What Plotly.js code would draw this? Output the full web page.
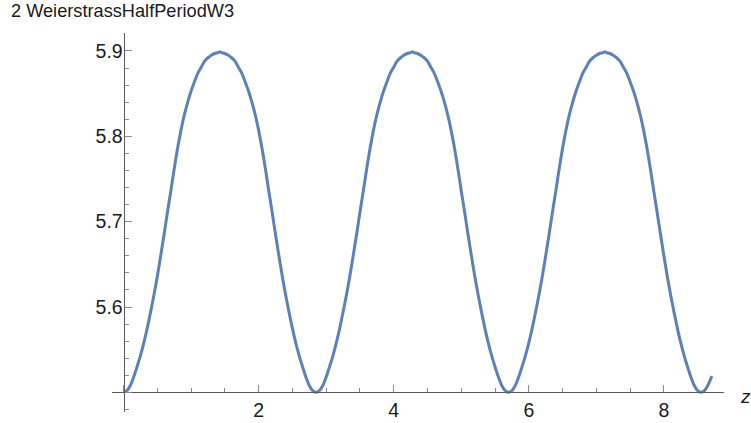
<!DOCTYPE html>
<html>
<head>
<meta charset="utf-8">
<script src="https://cdn.plot.ly/plotly-3.0.1.min.js"></script>
<style>
  html, body { margin: 0; padding: 0; background: #ffffff; }
  #chart { width: 751px; height: 423px; }
</style>
</head>
<body>
<div id="chart"></div>
<script>
// Values (z, 2*W3), one list per hump
const zHump1 = [
  0, 0.05, 0.1, 0.15, 0.2, 0.25, 0.3, 0.35, 0.4, 0.45, 0.5, 0.55, 0.6, 0.65, 0.7,
  0.75, 0.8, 0.85, 0.9, 0.95, 1.0, 1.05, 1.1, 1.15, 1.2, 1.25, 1.3, 1.35, 1.4,
  1.425,
  1.45, 1.5, 1.55, 1.6, 1.65, 1.7, 1.75, 1.8, 1.85, 1.9, 1.95, 2.0, 2.05, 2.1,
  2.15, 2.2, 2.25, 2.3, 2.35, 2.4, 2.45, 2.5, 2.55, 2.6, 2.65, 2.7, 2.75, 2.8
];
const zHump2 = [
  2.85, 2.9, 2.95, 3.0, 3.05, 3.1, 3.15, 3.2, 3.25, 3.3, 3.35, 3.4, 3.45, 3.5, 3.55,
  3.6, 3.65, 3.7, 3.75, 3.8, 3.85, 3.9, 3.95, 4.0, 4.05, 4.1, 4.15, 4.2, 4.25,
  4.275,
  4.3, 4.35, 4.4, 4.45, 4.5, 4.55, 4.6, 4.65, 4.7, 4.75, 4.8, 4.85, 4.9, 4.95,
  5.0, 5.05, 5.1, 5.15, 5.2, 5.25, 5.3, 5.35, 5.4, 5.45, 5.5, 5.55, 5.6, 5.65
];
const zHump3 = [
  5.7, 5.75, 5.8, 5.85, 5.9, 5.95, 6.0, 6.05, 6.1, 6.15, 6.2, 6.25, 6.3, 6.35, 6.4,
  6.45, 6.5, 6.55, 6.6, 6.65, 6.7, 6.75, 6.8, 6.85, 6.9, 6.95, 7.0, 7.05, 7.1,
  7.125,
  7.15, 7.2, 7.25, 7.3, 7.35, 7.4, 7.45, 7.5, 7.55, 7.6, 7.65, 7.7, 7.75, 7.8,
  7.85, 7.9, 7.95, 8.0, 8.05, 8.1, 8.15, 8.2, 8.25, 8.3, 8.35, 8.4, 8.45, 8.5
];
const zTail = [8.55, 8.6, 8.65, 8.71];

const w3Hump1 = [
  5.500, 5.502, 5.508, 5.518, 5.530, 5.543, 5.558, 5.575, 5.594, 5.614, 5.636, 5.660, 5.685, 5.711, 5.736,
  5.762, 5.786, 5.807, 5.825, 5.840, 5.853, 5.864, 5.874, 5.881, 5.888, 5.892, 5.895, 5.897, 5.898,
  5.899,
  5.898, 5.897, 5.895, 5.892, 5.888, 5.881, 5.874, 5.864, 5.853, 5.840, 5.825, 5.807, 5.786, 5.762,
  5.736, 5.711, 5.685, 5.660, 5.636, 5.614, 5.594, 5.575, 5.558, 5.543, 5.530, 5.518, 5.508, 5.502
];
const w3Hump2 = [
  5.500, 5.502, 5.508, 5.518, 5.530, 5.543, 5.558, 5.575, 5.594, 5.614, 5.636, 5.660, 5.685, 5.711, 5.736,
  5.762, 5.786, 5.807, 5.825, 5.840, 5.853, 5.864, 5.874, 5.881, 5.888, 5.892, 5.895, 5.897, 5.898,
  5.899,
  5.898, 5.897, 5.895, 5.892, 5.888, 5.881, 5.874, 5.864, 5.853, 5.840, 5.825, 5.807, 5.786, 5.762,
  5.736, 5.711, 5.685, 5.660, 5.636, 5.614, 5.594, 5.575, 5.558, 5.543, 5.530, 5.518, 5.508, 5.502
];
const w3Hump3 = [
  5.500, 5.502, 5.508, 5.518, 5.530, 5.543, 5.558, 5.575, 5.594, 5.614, 5.636, 5.660, 5.685, 5.711, 5.736,
  5.762, 5.786, 5.807, 5.825, 5.840, 5.853, 5.864, 5.874, 5.881, 5.888, 5.892, 5.895, 5.897, 5.898,
  5.899,
  5.898, 5.897, 5.895, 5.892, 5.888, 5.881, 5.874, 5.864, 5.853, 5.840, 5.825, 5.807, 5.786, 5.762,
  5.736, 5.711, 5.685, 5.660, 5.636, 5.614, 5.594, 5.575, 5.558, 5.543, 5.530, 5.518, 5.508, 5.502
];
const w3Tail = [5.500, 5.502, 5.508, 5.519];

const xTickVals = [0, 2, 4, 6, 8];
const xTickText = ['', '2', '4', '6', '8'];
const yTickVals = [5.5, 5.6, 5.7, 5.8, 5.9];
const yTickText = ['', '5.6', '5.7', '5.8', '5.9'];
const titleText = '2 WeierstrassHalfPeriodW3';
const xLabel = 'z';

const zValues = zHump1.concat(zHump2, zHump3, zTail);
const w3Values = w3Hump1.concat(w3Hump2, w3Hump3, w3Tail);

const xRange = [-0.171, 8.89];
const yRange = [5.477, 5.921];

const lineCol = '#5a5a5a';
const tickCol = '#8a8a8a';
const textCol = '#1a1a1a';
const fontFam = '"Liberation Sans", Arial, sans-serif';

const trace = {
  x: zValues,
  y: w3Values,
  type: 'scatter',
  mode: 'lines',
  line: { color: '#5e81b5', width: 3, shape: 'spline', smoothing: 0.6 },
  hoverinfo: 'skip'
};

const layout = {
  width: 751,
  height: 423,
  margin: { l: 112, r: 27, t: 33, b: 11, pad: 0 },
  paper_bgcolor: '#ffffff',
  plot_bgcolor: '#ffffff',
  showlegend: false,
  title: {
    text: titleText,
    font: { family: fontFam, size: 18.2, color: textCol },
    x: 11 / 751, xref: 'container', xanchor: 'left',
    y: 1 - 11 / 423, yref: 'container', yanchor: 'middle'
  },
  xaxis: {
    range: xRange,
    anchor: 'free',
    position: (5.5 - yRange[0]) / (yRange[1] - yRange[0]),
    showgrid: false,
    zeroline: false,
    showline: true,
    linecolor: lineCol,
    linewidth: 1,
    tickmode: 'array',
    tickvals: xTickVals,
    ticktext: xTickText,
    ticks: 'inside',
    ticklen: 7,
    tickwidth: 1,
    tickcolor: tickCol,
    tickfont: { family: fontFam, size: 19.5, color: textCol },
    minor: { tickmode: 'linear', tick0: 0, dtick: 0.5, ticks: 'inside', ticklen: 4.5, tickwidth: 1, tickcolor: tickCol, showgrid: false }
  },
  yaxis: {
    range: yRange,
    anchor: 'free',
    position: (0 - xRange[0]) / (xRange[1] - xRange[0]),
    showgrid: false,
    zeroline: false,
    showline: true,
    linecolor: lineCol,
    linewidth: 1,
    tickmode: 'array',
    tickvals: yTickVals,
    ticktext: yTickText,
    ticks: 'inside',
    ticklen: 7,
    tickwidth: 1,
    tickcolor: tickCol,
    ticklabelstandoff: -3,
    tickfont: { family: fontFam, size: 19.5, color: textCol },
    minor: { tickmode: 'linear', tick0: 5.5, dtick: 0.02, ticks: 'inside', ticklen: 4.5, tickwidth: 1, tickcolor: tickCol, showgrid: false }
  },
  annotations: [{
    text: '<i>' + xLabel + '</i>',
    xref: 'paper', yref: 'paper',
    x: (745 - 112) / 612, y: (423 - 11 - 396) / 379,
    xanchor: 'center', yanchor: 'middle',
    showarrow: false,
    font: { family: fontFam, size: 19, color: textCol }
  }]
};

Plotly.newPlot('chart', [trace], layout, { staticPlot: true, displayModeBar: false });
</script>
</body>
</html>
